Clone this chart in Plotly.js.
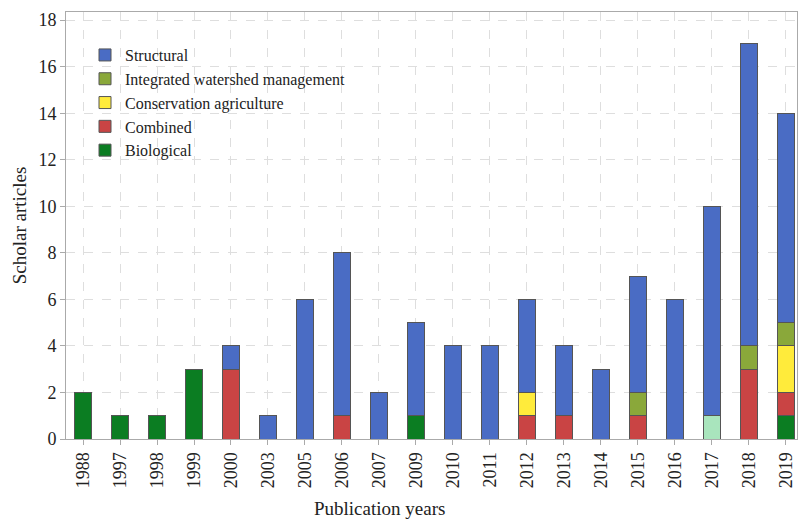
<!DOCTYPE html>
<html>
<head>
<meta charset="utf-8">
<script src="https://cdn.plot.ly/plotly-3.0.1.min.js"></script>
<style>html,body{margin:0;padding:0;background:#fff;}#chart{width:800px;height:523px;}</style>
</head>
<body>
<div id="chart"></div>
<script>
const years = ['1988','1997','1998','1999','2000','2003','2005','2006','2007','2009','2010','2011','2012','2013','2014','2015','2016','2017','2018','2019'];
const biological   = [2,1,1,3,0,0,0,0,0,1,0,0,0,0,0,0,0,0,0,1];
const other2017    = [0,0,0,0,0,0,0,0,0,0,0,0,0,0,0,0,0,1,0,0];
const combined     = [0,0,0,0,3,0,0,1,0,0,0,0,1,1,0,1,0,0,3,1];
const conservation = [0,0,0,0,0,0,0,0,0,0,0,0,1,0,0,0,0,0,0,2];
const iwm          = [0,0,0,0,0,0,0,0,0,0,0,0,0,0,0,1,0,0,1,1];
const structural   = [0,0,0,0,1,1,6,7,2,4,4,4,4,3,3,5,6,9,13,9];

const serif = 'Liberation Serif, Times New Roman, serif';
const line = {color:'#555', width:1};
function tr(name, y, color, show){
  return {type:'bar', name:name, x:years, y:y, width:0.44,
    marker:{color:color, line:line}, showlegend:show};
}
const data = [
  tr('Biological', biological, '#0b7d22', true),
  tr('Other', other2017, '#a9e5bd', false),
  tr('Combined', combined, '#c94444', true),
  tr('Conservation agriculture', conservation, '#ffeb3b', true),
  tr('Integrated watershed management', iwm, '#8aa83a', true),
  tr('Structural', structural, '#4a6cc4', true)
];
const grid = {gridcolor:'#dedede', griddash:'dash', gridwidth:1};
const layout = {
  width:800, height:523,
  margin:{l:66, r:3, t:12, b:84},
  barmode:'stack',
  paper_bgcolor:'#fff', plot_bgcolor:'#fff',
  font:{family:serif, color:'#222', size:15},
  xaxis:Object.assign({
    type:'category', range:[-0.46, 19.3], tickangle:-90,
    ticks:'outside', ticklen:5, tickcolor:'#aaa',
    showline:true, linecolor:'#aaa', mirror:true,
    tickfont:{family:serif, size:18}
  }, grid),
  yaxis:Object.assign({
    range:[0, 18.35], dtick:2,
    ticks:'outside', ticklen:5, tickcolor:'#aaa',
    showline:true, linecolor:'#aaa', mirror:true, zeroline:false,
    tickfont:{family:serif, size:18},
    title:{text:'Scholar articles', font:{family:serif, size:19}, standoff:6}
  }, grid),
  annotations:[{
    text:'Publication years', xref:'paper', yref:'paper',
    x:0.4295, y:-0.1616, xanchor:'center', yanchor:'middle',
    showarrow:false, font:{family:serif, size:19}
  }],
  legend:{x:0.026, y:0.939, xanchor:'left', yanchor:'top', traceorder:'reversed',
    bgcolor:'rgba(0,0,0,0)', font:{family:serif, size:16, color:'#222'}, tracegroupgap:0},
  bargap:0.5
};
Plotly.newPlot('chart', data, layout, {displayModeBar:false});
</script>
</body>
</html>
